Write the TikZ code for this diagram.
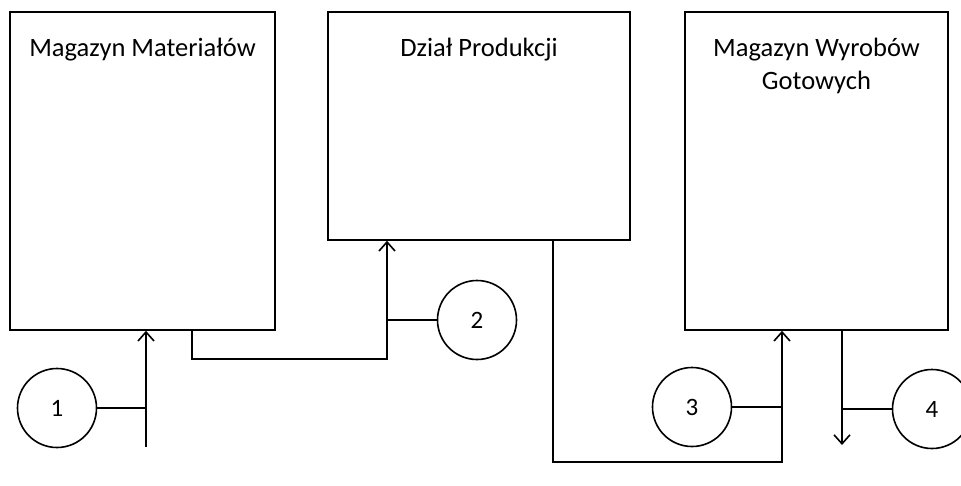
\documentclass[tikz,border=0pt]{standalone}
\usepackage{fontspec}
\setmainfont{Carlito}
\usetikzlibrary{positioning}
\usetikzlibrary{arrows.meta}

\begin{document}
\begin{tikzpicture}[x=1pt, y=-1pt, line width=1.6pt,
	box/.style = {draw, rectangle, inner sep=0pt},
	num/.style = {draw, circle, minimum size=79pt, inner sep=0pt, font=\fontsize{25}{30}\selectfont},
	title/.style = {anchor=north, align=center, inner sep=0pt, font=\fontsize{26.5}{33}\selectfont},
	arr/.style = {-{Straight Barb[length=9pt, width=16pt]}}]
	\useasboundingbox (0,0) rectangle (961,485);
	% boxes
	\node[box, minimum width=265pt, minimum height=318pt] (mat) at (142.5,171) {};
	\node[box, minimum width=302pt, minimum height=228pt] (prod) at (479,126) {};
	\node[box, minimum width=263pt, minimum height=318pt] (wyr) at (816.5,171) {};
	\node[title] (matt) at (142.5,37) {Magazyn Materiałów};
	\node[title] (prodt) at (479,37) {Dział Produkcji};
	\node[title] (wyrt) at (816.5,37) {Magazyn Wyrobów\\Gotowych};
	% circles
	\node[num] (n1) at (57,408) {1};
	\node[num] (n2) at (477,320) {2};
	\node[num] (n3) at (692,407) {3};
	\node[num] (n4) at (932,409) {4};
	% points of the lines
	\coordinate (a1) at (146,447);
	\coordinate (a2) at (192,359);
	\coordinate (a3) at (387,359);
	\coordinate (a4) at (553,462);
	\coordinate (a5) at (782,462);
	\coordinate (a6) at (842,445);
	% flows
	\draw[arr] (a1) -- (a1 |- mat.south);
	\draw (n1) -- (n1 -| a1);
	\draw[arr] (a2 |- mat.south) -- (a2) -- (a3) -- (a3 |- prod.south);
	\draw (n2) -- (n2 -| a3);
	\draw[arr] (a4 |- prod.south) -- (a4) -- (a5) -- (a5 |- wyr.south);
	\draw (n3) -- (n3 -| a5);
	\draw[arr] (a6 |- wyr.south) -- (a6);
	\draw (n4) -- (n4 -| a6);
\end{tikzpicture}
\end{document}
